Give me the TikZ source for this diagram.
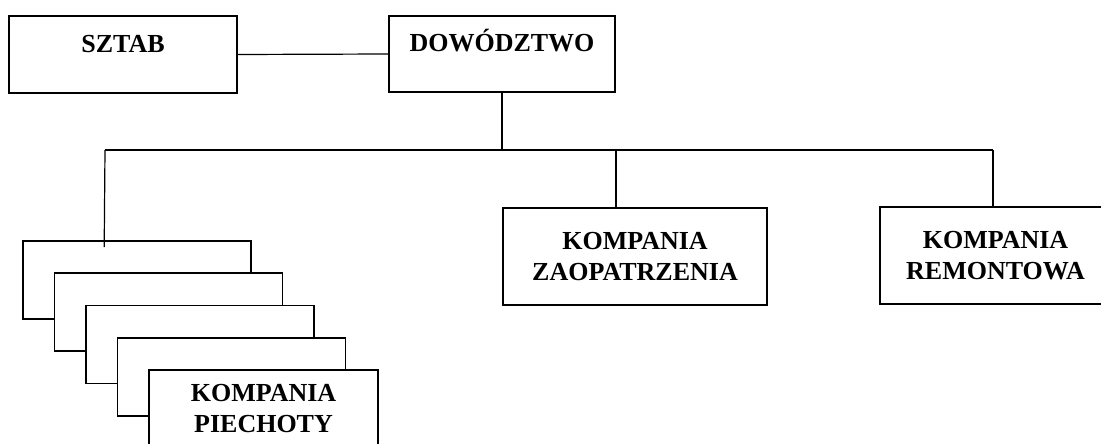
\documentclass[tikz,border=0pt]{standalone}
\usepackage{fontspec}
\setmainfont{Liberation Serif}
\usetikzlibrary{positioning}

\begin{document}
\begin{tikzpicture}[x=1pt,y=-1pt,
  box/.style={draw, line width=1.6pt, fill=white, inner sep=0pt, align=center,
    font=\bfseries\fontsize{26}{31}\selectfont},
  topbox/.style={box, text height=18pt, text depth=22pt},
  link/.style={line width=1.2pt}]
\useasboundingbox (0,0) rectangle (1101,444);
% top row
\node[topbox, minimum width=228pt, minimum height=77pt] (sztab) at (123,54.5) {SZTAB};
\node[topbox, minimum width=226pt, minimum height=76pt] (dowodztwo) at (502,54) {DOWÓDZTWO};
\draw[link] (sztab.east) -- (dowodztwo.west);
% companies
\node[box, minimum width=264pt, minimum height=97pt] (zaop) at (635,256.5) {KOMPANIA\\ZAOPATRZENIA};
\node[box, minimum width=231pt, minimum height=97pt] (remont) at (995.5,255.5) {KOMPANIA\\REMONTOWA};
\foreach \i in {0,...,3}
  \node[box, minimum width=228pt, minimum height=78pt] (piech\i) at (137+31.5*\i,280+32.25*\i) {};
\node[box, minimum width=229pt, minimum height=78pt] (piechota) at (263.5,409) {KOMPANIA\\PIECHOTY};
% bus
\coordinate (busW) at (105,150);
\coordinate (busE) at (993,150);
\draw[link] (busW) -- (busE);
\draw[link] (dowodztwo.south) -- (dowodztwo.south |- busW);
\draw[link] (busW) -- ([xshift=82pt,yshift=-7pt]piech0.north west);
\draw[link] ([xshift=-19pt]zaop.north) -- ([xshift=-19pt]zaop.north |- busW);
\draw[link] (busE) -- (busE |- remont.north);
\end{tikzpicture}
\end{document}
